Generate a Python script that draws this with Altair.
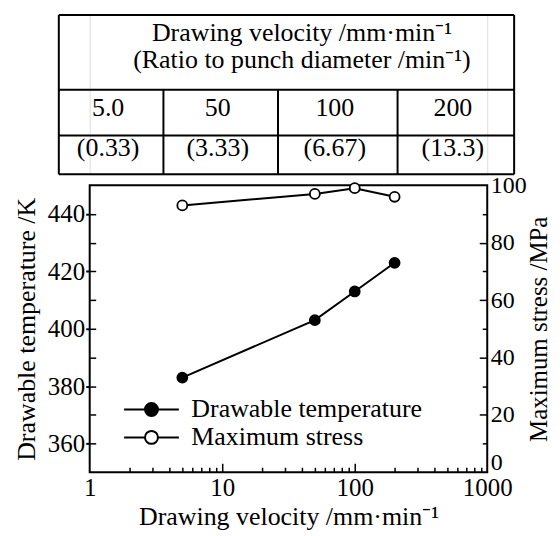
import altair as alt
import pandas as pd

# ---------------- data ----------------
velocity = [5, 50, 100, 200]
velocity_labels = ["5.0", "50", "100", "200"]
ratio_labels = ["(0.33)", "(3.33)", "(6.67)", "(13.3)"]
temperature = [383, 403, 413, 423]
max_stress = [93, 97, 99, 96]
series_names = ["Drawable temperature", "Maximum stress"]
header_lines = ["Drawing velocity /mm·min⁻¹", "(Ratio to punch diameter /min⁻¹)"]

x_label_values = [1, 10, 100, 1000]
x_minor_values = [2, 3, 4, 5, 6, 7, 8, 9, 20, 30, 40, 50, 60, 70, 80, 90,
                  200, 300, 400, 500, 600, 700, 800, 900]
x_major_values = [10, 100]
temp_label_values = [360, 380, 400, 420, 440]
temp_tick_values = [360, 370, 380, 390, 400, 410, 420, 430, 440]
stress_label_values = [0, 20, 40, 60, 80, 100]
stress_minor_values = [10, 30, 50, 70, 90]
stress_major_values = [20, 40, 60, 80]

# ---------------- layout constants ----------------
FONT = "Liberation Serif"
PLOT_W, PLOT_H = 399, 288
TABLE_H = 160
col_edges = [-31, 74, 189, 309, 426]   # table column boundaries (px from plot left)
row_edges = [0, 75, 121, 160]          # table row boundaries (px from table top)
header_x = 213
header_y = [18, 45]
value_y, ratio_y = 93, 134

# ---------------- table ----------------
segs = []
for r in row_edges:
    segs.append(dict(x=col_edges[0], x2=col_edges[-1], y=r, y2=r))
for c in (col_edges[0], col_edges[-1]):
    segs.append(dict(x=c, x2=c, y=row_edges[0], y2=row_edges[-1]))
for c in col_edges[1:-1]:
    segs.append(dict(x=c, x2=c, y=row_edges[1], y2=row_edges[-1]))
seg_df = pd.DataFrame(segs)

txt = []
for i, h in enumerate(header_lines):
    txt.append(dict(x=header_x, y=header_y[i], t=h))
for i in range(len(velocity_labels)):
    cx = (col_edges[i] + col_edges[i + 1]) / 2 - 3
    txt.append(dict(x=cx, y=value_y, t=velocity_labels[i]))
    txt.append(dict(x=cx, y=ratio_y, t=ratio_labels[i]))
txt_df = pd.DataFrame(txt)

tx = alt.Scale(domain=[0, PLOT_W], nice=False, zero=False)
ty = alt.Scale(domain=[0, TABLE_H], reverse=True, nice=False, zero=False)

table_lines = alt.Chart(seg_df).mark_rule(color="black", strokeWidth=2).encode(
    x=alt.X("x:Q", scale=tx, axis=None),
    x2="x2:Q",
    y=alt.Y("y:Q", scale=ty, axis=None),
    y2="y2:Q",
)
table_text = alt.Chart(txt_df).mark_text(
    font=FONT, fontSize=26, color="black", align="center", baseline="middle"
).encode(
    x=alt.X("x:Q", scale=tx, axis=None),
    y=alt.Y("y:Q", scale=ty, axis=None),
    text="t:N",
)
table = alt.layer(table_lines, table_text).properties(width=PLOT_W, height=TABLE_H)

# ---------------- plot ----------------
temp_df = pd.DataFrame({"velocity": velocity, "value": temperature, "series": series_names[0]})
stress_df = pd.DataFrame({"velocity": velocity, "value": max_stress, "series": series_names[1]})

xscale = alt.Scale(type="log", domain=[1, 1000], nice=False)
tscale = alt.Scale(domain=[350, 450], nice=False, zero=False)
sscale = alt.Scale(domain=[0, 100], nice=False, zero=False)
fill_scale = alt.Scale(domain=series_names, range=["black", "white"])

SYMBOL = ("M-2.115,0L-0.5,0M0.5,0L2.115,0M0.5,0A0.5,0.5,0,1,1,-0.5,0"
          "A0.5,0.5,0,1,1,0.5,0Z")
legend = alt.Legend(
    title=None, orient="none", legendX=48, legendY=211, padding=0,
    symbolType=SYMBOL, symbolSize=676, symbolStrokeColor="black",
    symbolStrokeWidth=2, labelFont=FONT, labelFontSize=26, labelColor="black",
    labelOffset=26, rowPadding=1, labelLimit=400,
)
fill_enc = alt.Fill("series:N", scale=fill_scale, legend=legend)

x_main = alt.X(
    "velocity:Q", scale=xscale,
    axis=alt.Axis(
        values=x_label_values, format="d", ticks=False, domain=False, grid=False,
        labelFont=FONT, labelFontSize=25, labelColor="black", labelPadding=3,
        labelFlush=False, labelOverlap=False,
        title="Drawing velocity /mm·min⁻¹", titleFont=FONT, titleFontSize=26,
        titleFontWeight="normal", titleColor="black", titlePadding=3,
    ),
)
y_temp = alt.Y(
    "value:Q", scale=tscale,
    axis=alt.Axis(
        orient="left", values=temp_label_values, tickSize=4, tickWidth=2,
        tickColor="black", domain=False, grid=False,
        labelFont=FONT, labelFontSize=25, labelColor="black", labelPadding=1,
        title="Drawable temperature /K", titleFont=FONT, titleFontSize=26,
        titleFontWeight="normal", titleColor="black", titlePadding=8,
    ),
)
y_stress = alt.Y(
    "value:Q", scale=sscale,
    axis=alt.Axis(
        orient="right", values=stress_label_values, ticks=False, domain=False,
        grid=False, labelFont=FONT, labelFontSize=24, labelColor="black",
        labelPadding=3,
        labelOffset={"condition": {"test": "datum.value == 0", "value": -10}, "value": 0},
        title="Maximum stress /MPa", titleFont=FONT,
        titleFontSize=25, titleFontWeight="normal", titleColor="black",
        titlePadding=0, titleAngle=270, titleBaseline="top",
    ),
)

pt = dict(shape="circle", filled=True, size=100, stroke="black", strokeWidth=1.8, opacity=1)

temp_line = alt.Chart(temp_df).mark_line(color="black", strokeWidth=2).encode(x=x_main, y=y_temp)
temp_pts = alt.Chart(temp_df).mark_point(**pt).encode(x=x_main, y=y_temp, fill=fill_enc)
inner_temp = alt.layer(temp_line, temp_pts)

x_none = alt.X("velocity:Q", scale=xscale, axis=None)
stress_line = alt.Chart(stress_df).mark_line(color="black", strokeWidth=2).encode(x=x_none, y=y_stress)
stress_pts = alt.Chart(stress_df).mark_point(**pt).encode(x=x_none, y=y_stress, fill=fill_enc)
inner_stress = alt.layer(stress_line, stress_pts)


# inward-pointing ticks: tick-only axes moved onto the opposite plot edges
def tick_axis(orient, offset, values, size):
    return alt.Axis(
        orient=orient, offset=offset, values=values, labels=False, domain=False,
        grid=False, title=None, tickColor="black", tickWidth=1.5, tickSize=size,
    )


ticks_a = alt.Chart(temp_df).mark_point(opacity=0).encode(
    x=alt.X("velocity:Q", scale=xscale, axis=tick_axis("top", -PLOT_H, x_minor_values, 5)),
    y=alt.Y("value:Q", scale=tscale, axis=tick_axis("right", -PLOT_W, temp_tick_values, 6)),
)
ticks_b = alt.Chart(stress_df).mark_point(opacity=0).encode(
    x=alt.X("velocity:Q", scale=xscale, axis=tick_axis("top", -PLOT_H, x_major_values, 9)),
    y=alt.Y("value:Q", scale=sscale, axis=tick_axis("left", -PLOT_W, stress_minor_values, 5)),
)
ticks_c = alt.Chart(stress_df).mark_point(opacity=0).encode(
    x=x_none,
    y=alt.Y("value:Q", scale=sscale, axis=tick_axis("left", -PLOT_W, stress_major_values, 8)),
)

plot = alt.layer(inner_temp, inner_stress, ticks_a, ticks_b, ticks_c).resolve_scale(
    x="independent", y="independent"
).properties(
    width=PLOT_W, height=PLOT_H,
    view=alt.ViewBackground(stroke="black", strokeWidth=2),
)

chart = alt.vconcat(table, plot, spacing=11, bounds="flush").resolve_scale(
    fill="independent"
).properties(
    padding={"left": 4, "top": 4, "right": 0, "bottom": 0},
).configure_view(stroke=None).configure(font=FONT)

chart.save("out.html", embed_options={"renderer": "svg", "actions": False})
